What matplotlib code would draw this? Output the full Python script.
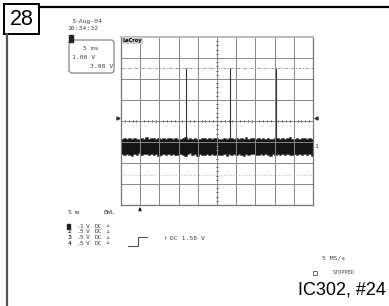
import numpy as np
import matplotlib
matplotlib.use("Agg")
import matplotlib.pyplot as plt
from matplotlib.patches import Rectangle, FancyBboxPatch

# scope settings / labels
date_txt = "3-Aug-04"
time_txt = "10:34:32"
box_lines = ["5 ms", "1.00 V", "3.98 V"]
ch_nums = ["1", "2", "3", "4"]
ch_volts = [".1", ".5", ".5", ".5"]
trig_txt = "DC 1.58 V"
rate_txt = "5 MS/s"
label_txt = "IC302, #24"

# trace 1 (divisions) - noise band envelope
band_hi = [-0.84, -0.80, -0.87, -0.82, -0.86, -0.79, -0.85, -0.88, -0.81, -0.84,
           -0.78, -0.86, -0.83, -0.80, -0.87, -0.82, -0.85, -0.79, -0.88, -0.83,
           -0.81, -0.86, -0.80, -0.84, -0.87, -0.82, -0.78, -0.85, -0.83, -0.88,
           -0.80, -0.84, -0.86, -0.81, -0.79, -0.85, -0.82, -0.87, -0.83, -0.80,
           -0.86, -0.84, -0.81, -0.88, -0.79, -0.83, -0.85, -0.80, -0.87, -0.82,
           -0.84, -0.78, -0.86, -0.83, -0.81, -0.88, -0.80, -0.85, -0.82, -0.87,
           -0.79, -0.84, -0.86, -0.81, -0.83, -0.88, -0.80, -0.85, -0.82, -0.78,
           -0.86, -0.84, -0.81, -0.87, -0.83, -0.80, -0.85, -0.82, -0.88, -0.84]
band_lo = [-1.58, -1.62, -1.55, -1.60, -1.65, -1.57, -1.61, -1.54, -1.63, -1.59,
           -1.56, -1.64, -1.58, -1.61, -1.55, -1.66, -1.60, -1.57, -1.62, -1.58,
           -1.64, -1.55, -1.60, -1.63, -1.57, -1.61, -1.66, -1.58, -1.54, -1.62,
           -1.59, -1.65, -1.57, -1.60, -1.63, -1.56, -1.61, -1.58, -1.64, -1.55,
           -1.60, -1.62, -1.57, -1.66, -1.59, -1.61, -1.55, -1.63, -1.58, -1.60,
           -1.65, -1.57, -1.62, -1.59, -1.56, -1.64, -1.60, -1.58, -1.63, -1.55,
           -1.61, -1.66, -1.58, -1.60, -1.57, -1.63, -1.59, -1.62, -1.55, -1.61,
           -1.64, -1.58, -1.60, -1.56, -1.63, -1.59, -1.61, -1.57, -1.65, -1.60]
spike_t = [-8.1, 3.4, 15.4]
spike_top = [2.5, 2.5, 2.5]
spike_bot = [-0.85, -0.85, -0.85]
cursor_hi = 2.5
cursor_lo = -2.55

W, H = 389, 306
fig = plt.figure(figsize=(W / 100, H / 100), dpi=100)

# page layer in pixel coords
bg = fig.add_axes([0, 0, 1, 1])
bg.set_xlim(0, W)
bg.set_ylim(H, 0)
bg.axis("off")

# page frame + number box
bg.plot([39, 389], [7, 7], color="black", lw=1.6)
bg.plot([7.5, 7.5], [34, 306], color="#555555", lw=1.6)
bg.add_patch(Rectangle((4, 4), 35, 30, fill=False, ec="black", lw=1.4))
bg.text(21.5, 19.5, "28", fontsize=15.5, ha="center", va="center", family="Liberation Sans")

mono = dict(family="DejaVu Sans Mono", color="#444444", fontsize=4.6)
bg.text(72, 21, date_txt, va="center", **mono)
bg.text(67, 29, time_txt, va="center", **mono)

# channel readout box
bg.add_patch(FancyBboxPatch((69, 40), 45, 33, boxstyle="round,pad=0,rounding_size=3",
                            fill=False, ec="#777777", lw=0.8))
bg.add_patch(Rectangle((69.5, 35), 3.5, 7, color="#222222"))
bg.text(83, 49, box_lines[0], va="center", **mono)
bg.text(72, 57.5, box_lines[1], va="center", **mono)
bg.text(90, 66, box_lines[2], va="center", **mono)

# bottom readouts
bg.text(68, 212, "5", va="center", **mono)
bg.text(75, 212, "ms", va="center", family="DejaVu Sans Mono", color="#444444", fontsize=3.5)
bg.text(104, 212, "BWL", va="center", **mono)
for i in range(4):
    y = 226 + i * 5.8
    if i == 0:
        bg.add_patch(Rectangle((67, y - 2.5), 3.5, 5, color="#222222"))
    else:
        bg.text(67.5, y, ch_nums[i], va="center", fontweight="bold", **mono)
    bg.text(76, y, ch_volts[i], va="center", **mono)
    bg.text(86, y, "V", va="center", **mono)
    bg.text(95, y, "DC", va="center", **mono)
    bg.text(106, y, "\u2206", va="center", family="DejaVu Sans Mono", color="#444444", fontsize=3)

# trigger step symbol
bg.plot([128, 138, 138, 147], [246, 246, 237, 237], color="#555555", lw=0.8)
bg.text(163, 239, "\u2191", va="center", **mono)
bg.text(170, 239, trig_txt, va="center", **mono)

bg.text(322, 258, rate_txt, va="center", **mono)
bg.add_patch(Rectangle((313.5, 270.5), 3.5, 4, fill=False, ec="#555555", lw=0.6))
bg.text(333, 273, "STOPPED", va="center", family="DejaVu Sans Mono", color="#444444", fontsize=3.8)
bg.text(298, 290, label_txt, va="center", fontsize=13, family="Liberation Sans")

# scope screen
x0, y0, x1, y1 = 121, 37, 313, 205
ax = fig.add_axes([x0 / W, 1 - y1 / H, (x1 - x0) / W, (y1 - y0) / H])
ax.set_xlim(-25, 25)
ax.set_ylim(-4, 4)
ax.set_xticks([])
ax.set_yticks([])
for s in ax.spines.values():
    s.set_color("#777777")
    s.set_linewidth(0.9)
ax.spines["top"].set_color("#bbbbbb")
ax.spines["top"].set_linewidth(1.5)

grid_c = "#888888"
for gx in np.arange(-20, 25, 5):
    ax.axvline(gx, color=grid_c, lw=0.7)
for gy in np.arange(-3, 4, 1):
    ax.axhline(gy, color=grid_c, lw=0.7)

# minor ticks on centre cross
for tx in np.arange(-25, 25.01, 1):
    ax.plot([tx, tx], [-0.07, 0.07], color="#777777", lw=0.6)
for ty in np.arange(-4, 4.01, 0.2):
    ax.plot([-0.35, 0.35], [ty, ty], color="#777777", lw=0.6)

ax.axhline(cursor_hi, color="#999999", lw=0.7, dashes=(3, 1.5, 1, 1.5))
ax.axhline(cursor_lo, color="#aaaaaa", lw=0.6, dashes=(1, 2))

ax.vlines(spike_t, spike_bot, spike_top, color="#333333", lw=0.8)

# noise band as a stepped polygon
t_hi = np.linspace(-25, 25, len(band_hi))
t_lo = np.linspace(-25, 25, len(band_lo))
px = np.concatenate([np.repeat(t_hi, 2)[1:], [25], [25], np.repeat(t_lo, 2)[1:][::-1], [-25]])
py = np.concatenate([np.repeat(band_hi, 2)[:-1], [band_hi[-1]], [band_lo[-1]],
                     np.repeat(band_lo, 2)[:-1][::-1], [band_lo[0]]])
ax.fill(px, py, color="#151515", lw=0.4, edgecolor="#3a3a3a")

ax.text(-24.6, 3.95, "LeCroy", fontsize=3.6, va="top", ha="left", fontweight="bold",
        family="DejaVu Sans", bbox=dict(fc="#cccccc", ec="none", pad=0.6))

# edge markers
bg.plot([118], [117.5], marker=">", color="#333333", markersize=2.2)
bg.plot([316.5], [117.5], marker="<", color="#333333", markersize=2.2)
bg.text(314.5, 146.5, "1", va="center", **mono)
bg.annotate("", xy=(140, 204), xytext=(140, 214),
            arrowprops=dict(arrowstyle="-|>", color="#222222", lw=0.9, mutation_scale=4))

fig.savefig("out.png", dpi=100)
